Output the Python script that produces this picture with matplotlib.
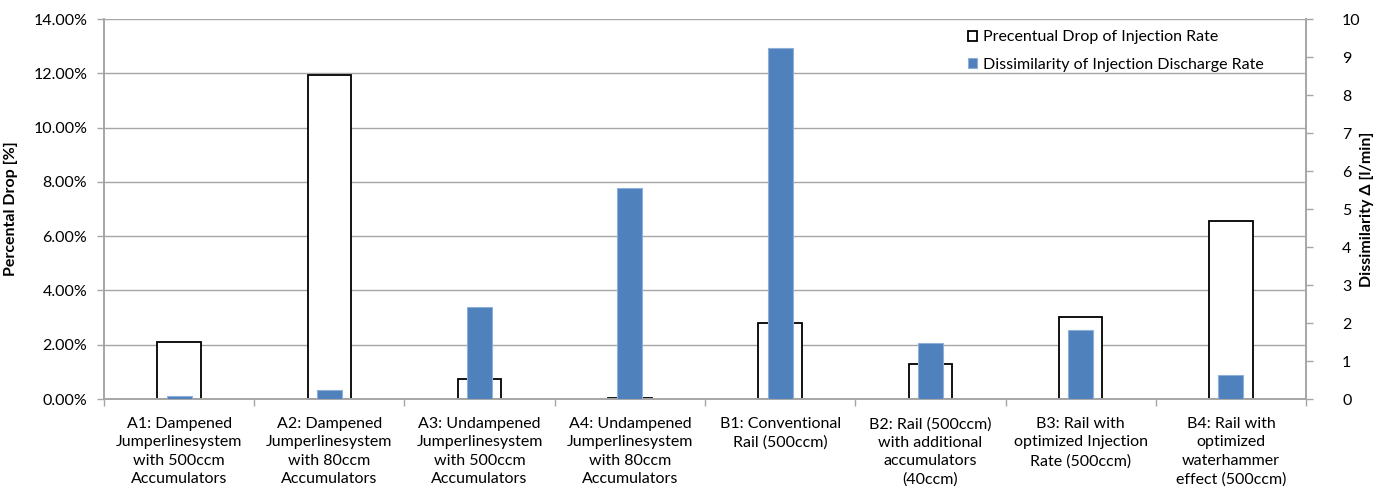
import numpy as np
import matplotlib
matplotlib.use('Agg')
import matplotlib.pyplot as plt
from matplotlib.ticker import FuncFormatter, MultipleLocator, FixedLocator

plt.rcParams['font.family'] = ['Lato', 'DejaVu Sans']

categories = [
    'A1: Dampened\nJumperlinesystem\nwith 500ccm\nAccumulators',
    'A2: Dampened\nJumperlinesystem\nwith 80ccm\nAccumulators',
    'A3: Undampened\nJumperlinesystem\nwith 500ccm\nAccumulators',
    'A4: Undampened\nJumperlinesystem\nwith 80ccm\nAccumulators',
    'B1: Conventional\nRail (500ccm)',
    'B2: Rail (500ccm)\nwith additional\naccumulators\n(40ccm)',
    'B3: Rail with\noptimized Injection\nRate (500ccm)',
    'B4: Rail with\noptimized\nwaterhammer\neffect (500ccm)',
]
percental_drop = [2.11, 11.95, 0.73, 0.05, 2.79, 1.29, 3.01, 6.57]
dissimilarity = [0.08, 0.24, 2.43, 5.54, 9.23, 1.47, 1.81, 0.62]

grid_col = '#a6a6a6'
blue = '#4f81bd'
fs = 11.5

fig = plt.figure(figsize=(13.81, 4.99), dpi=100)
ax1 = fig.add_axes([0.0753, 0.2004, 0.8704, 0.7615])
ax2 = ax1.twinx()

x = np.arange(len(categories))
b1 = ax1.bar(x, percental_drop, width=0.29, color='white', edgecolor='black',
             linewidth=1.3, label='Precentual Drop of Injection Rate', zorder=2)
b2 = ax2.bar(x, dissimilarity, width=0.166, color=blue, edgecolor='#8eafd8',
             linewidth=0.8, label='Dissimilarity of Injection Discharge Rate', zorder=3)

ax1.set_xlim(-0.5, len(categories) - 0.5)
ax1.set_ylim(0, 14)
ax2.set_ylim(0, 10)

ax1.yaxis.set_major_locator(MultipleLocator(2))
ax1.yaxis.set_major_formatter(FuncFormatter(lambda v, p: '{:.2f}%'.format(v)))
ax2.yaxis.set_major_locator(MultipleLocator(1))

ax1.set_axisbelow(True)
ax1.yaxis.grid(True, color=grid_col, linewidth=1.0)

ax1.xaxis.set_major_locator(FixedLocator(np.arange(-0.5, len(categories))))
ax1.xaxis.set_minor_locator(FixedLocator(x))
ax1.set_xticklabels([], minor=False)
ax1.set_xticklabels(categories, minor=True, fontsize=fs, linespacing=1.4)
ax1.tick_params(axis='x', which='major', length=5, color=grid_col, width=1)
ax1.tick_params(axis='x', which='minor', length=0, pad=13)

ax1.tick_params(axis='y', length=5, color=grid_col, width=1, labelsize=fs, pad=7)
ax2.tick_params(axis='y', length=5, color=grid_col, width=1, labelsize=fs, pad=21)
for t in ax2.get_yticklabels():
    t.set_horizontalalignment('left')

for ax in (ax1, ax2):
    for s in ax.spines.values():
        s.set_color(grid_col)
        s.set_linewidth(1.2)
    ax.spines['top'].set_visible(False)

ax1.set_ylabel('Percental Drop [%]', fontsize=fs, fontweight='bold')
ax1.yaxis.set_label_coords(-0.0715, 0.5)
ax2.set_ylabel('Dissimilarity Δ [l/min]', fontsize=fs, fontweight='bold', rotation=90)
ax2.yaxis.set_label_coords(1.045, 0.5)

ax2.legend([b1, b2], [b1.get_label(), b2.get_label()], loc='upper right',
           bbox_to_anchor=(1278 / 1381, 1 - 16 / 499), bbox_transform=fig.transFigure,
           frameon=False, fontsize=fs, handlelength=0.6, handleheight=0.6,
           handletextpad=0.35, labelspacing=0.85)

fig.savefig('out.png', dpi=100)
